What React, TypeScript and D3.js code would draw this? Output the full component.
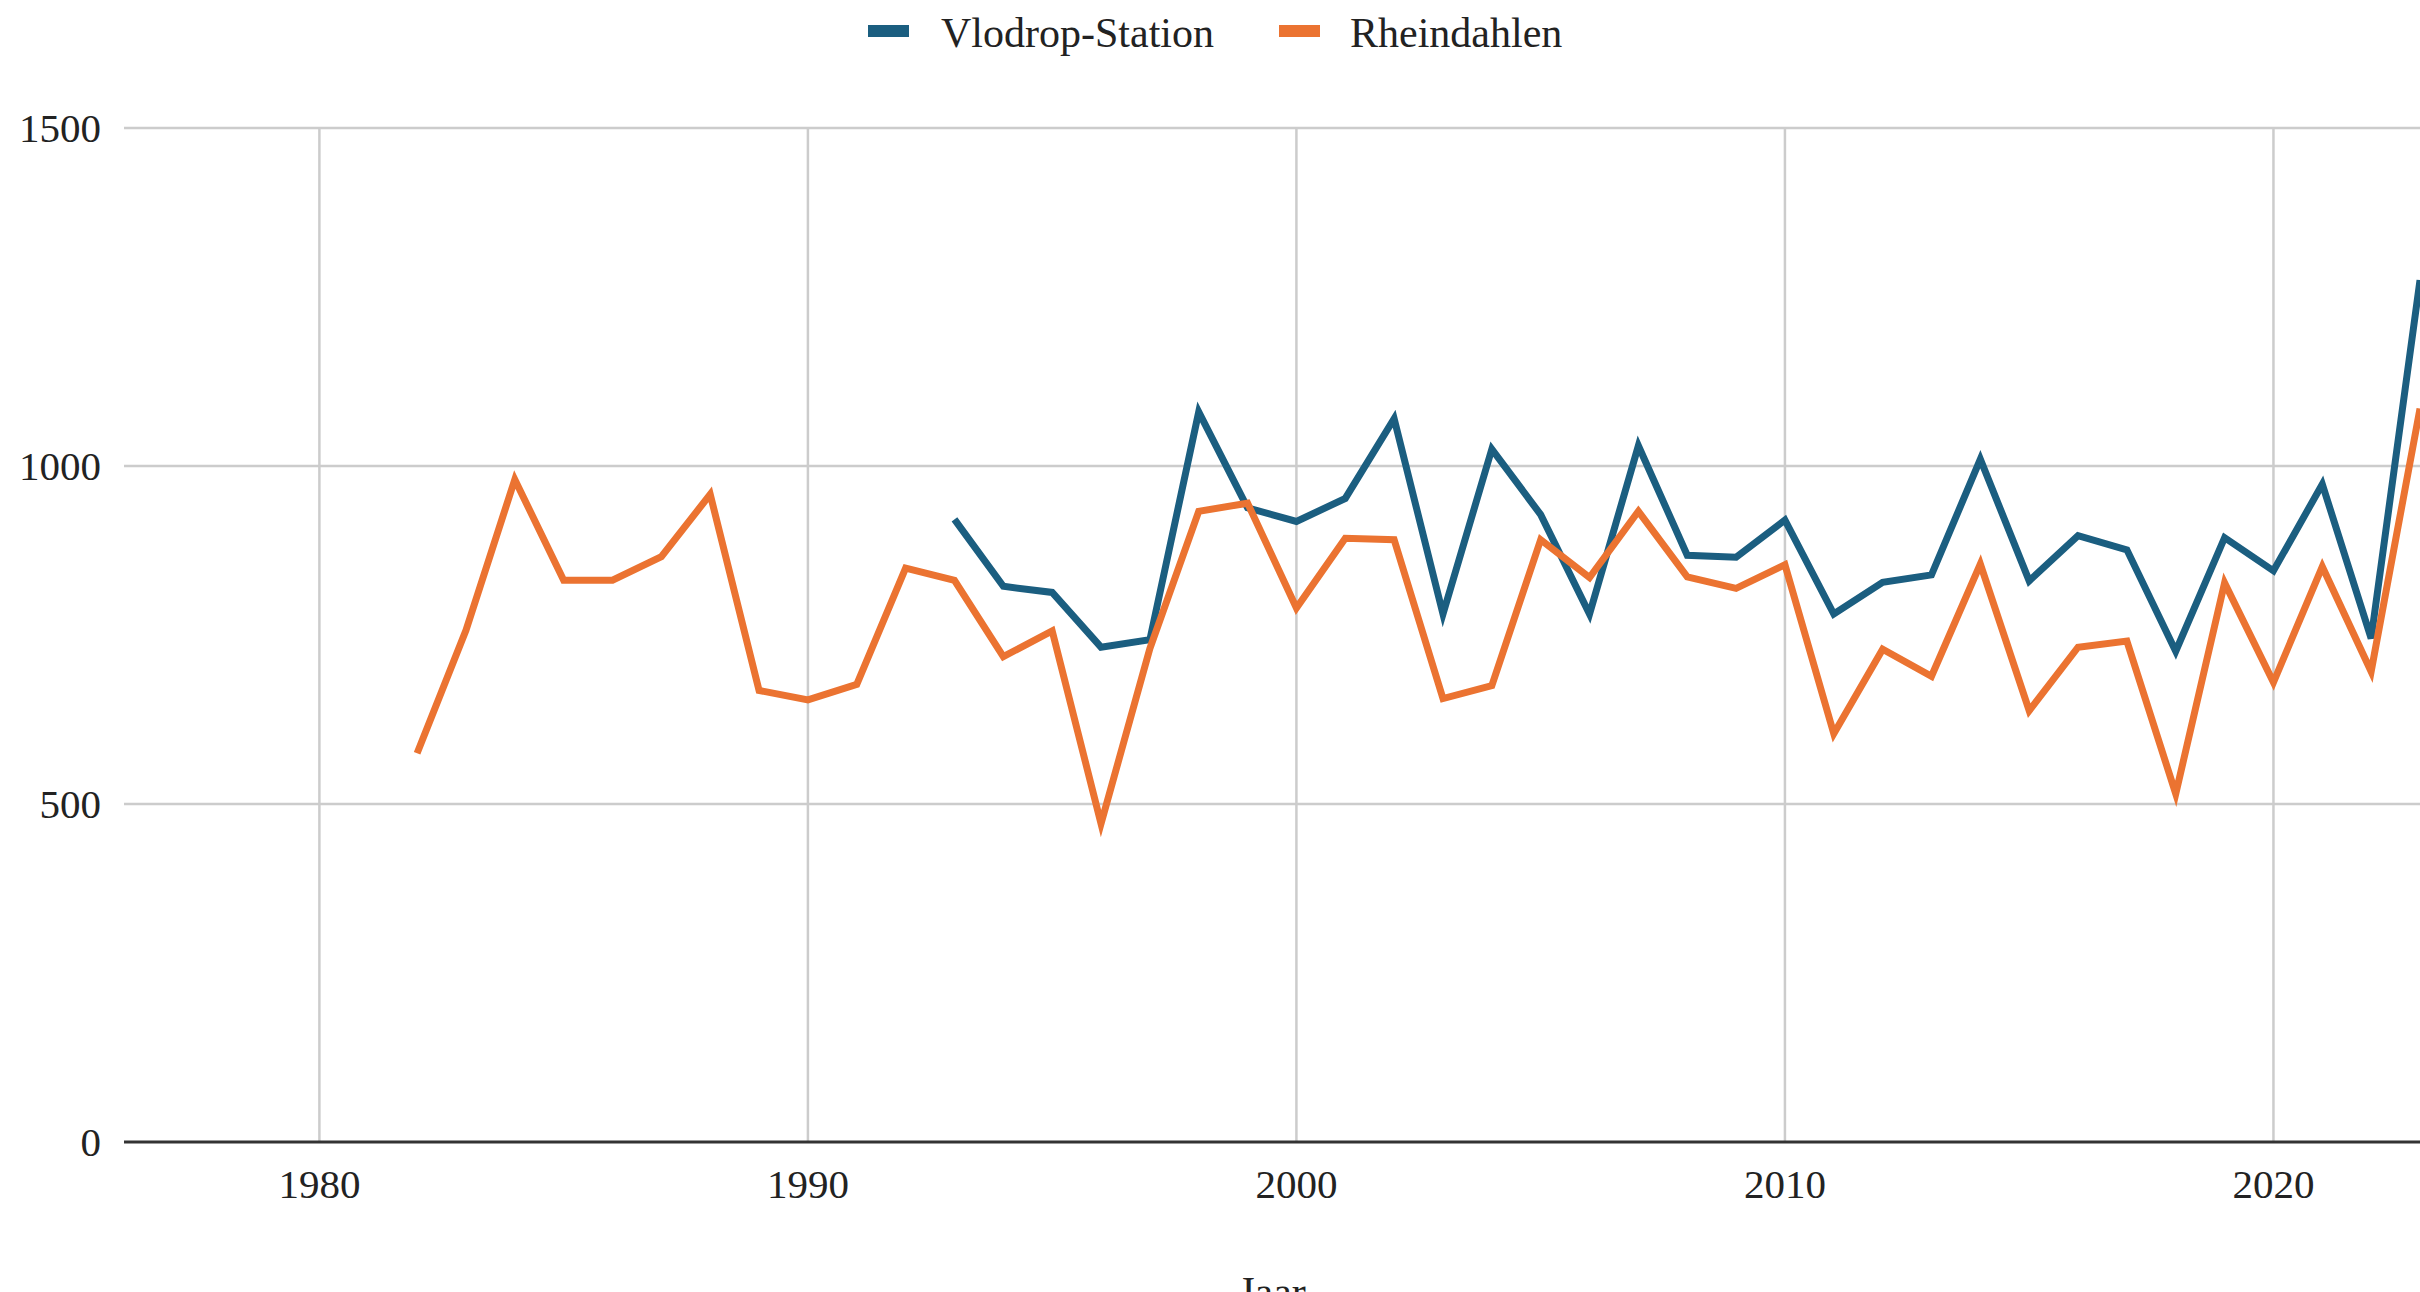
import React from "react";
import * as d3 from "d3";

const rheinYears = [1982,1983,1984,1985,1986,1987,1988,1989,1990,1991,1992,1993,1994,1995,1996,1997,1998,1999,2000,2001,2002,2003,2004,2005,2006,2007,2008,2009,2010,2011,2012,2013,2014,2015,2016,2017,2018,2019,2020,2021,2022,2023];
const rheinValues = [575,757,980,831,831,866,958,668,654,677,849,831,718,756,471,730,933,945,790,893,891,656,675,891,835,933,836,819,854,604,729,689,855,638,732,741,515,827,680,851,696,1085];

const vlodYears = [1993,1994,1995,1996,1997,1998,1999,2000,2001,2002,2003,2004,2005,2006,2007,2008,2009,2010,2011,2012,2013,2014,2015,2016,2017,2018,2019,2020,2021,2022,2023];
const vlodValues = [921,822,813,732,743,1080,938,918,952,1070,781,1025,928,781,1030,868,865,920,781,828,839,1010,830,897,876,726,894,845,973,745,1275];

const xTicks = [1980, 1990, 2000, 2010, 2020];
const yTicks = [0, 500, 1000, 1500];
const seriesNames = ["Vlodrop-Station", "Rheindahlen"];
const xTitle = "Jaar";

const W = 2420;
const H = 1292;
const BLUE = "#1b5e80";
const ORANGE = "#eb7331";
const FONT = "'Liberation Serif', 'Times New Roman', serif";

export default function App() {
  const x = d3.scaleLinear().domain([1976, 2023]).range([124, 2420]);
  const y = d3.scaleLinear().domain([0, 1500]).range([1142, 128]);

  const line = d3
    .line<[number, number]>()
    .x((d) => x(d[0]))
    .y((d) => y(d[1]));

  const rhein = rheinYears.map((yr, i) => [yr, rheinValues[i]] as [number, number]);
  const vlod = vlodYears.map((yr, i) => [yr, vlodValues[i]] as [number, number]);

  const [x0, x1] = x.range();

  return (
    <svg
      width={W}
      height={H}
      style={{ position: "absolute", left: 0, top: 0, background: "#fff", display: "block" }}
      fontFamily={FONT}
    >
      <rect x={0} y={0} width={W} height={H} fill="#fff" />
      {yTicks.filter((t) => t !== 0).map((t) => (
        <line key={"gy" + t} x1={x0} x2={x1} y1={y(t)} y2={y(t)} stroke="#cccccc" strokeWidth={2.5} />
      ))}
      {xTicks.map((t) => (
        <line key={"gx" + t} x1={x(t)} x2={x(t)} y1={y(1500)} y2={y(0)} stroke="#cccccc" strokeWidth={2.5} />
      ))}
      {yTicks.map((t) => (
        <text key={"ty" + t} x={101} y={y(t)} textAnchor="end" dominantBaseline="central" fontSize={41} fill="#222">
          {t}
        </text>
      ))}
      {xTicks.map((t) => (
        <text key={"tx" + t} x={x(t)} y={1198} textAnchor="middle" fontSize={41} fill="#222">
          {t}
        </text>
      ))}
      <path d={line(vlod) || ""} fill="none" stroke={BLUE} strokeWidth={7} strokeLinejoin="miter" />
      <path d={line(rhein) || ""} fill="none" stroke={ORANGE} strokeWidth={7} strokeLinejoin="miter" />
      <line x1={x0} x2={x1} y1={y(0)} y2={y(0)} stroke="#333" strokeWidth={3} />
      <rect x={868} y={25} width={41} height={12} fill={BLUE} />
      <text x={941} y={47} fontSize={42} fill="#222">{seriesNames[0]}</text>
      <rect x={1279} y={25} width={41} height={12} fill={ORANGE} />
      <text x={1350} y={47} fontSize={42} fill="#222">{seriesNames[1]}</text>
      <text x={(x0 + x1) / 2} y={1306} textAnchor="middle" fontSize={42} fill="#222">{xTitle}</text>
    </svg>
  );
}
